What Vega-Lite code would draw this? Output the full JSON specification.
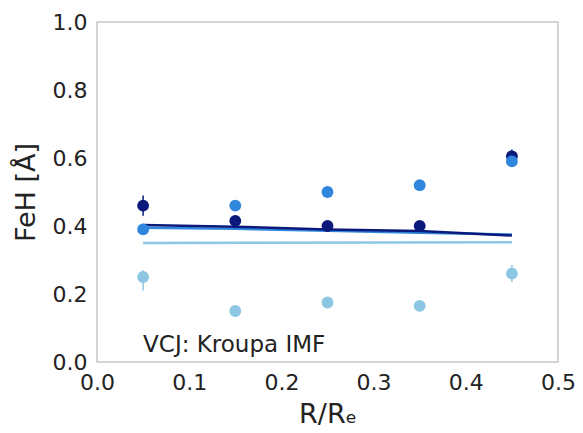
{
  "$schema": "https://vega.github.io/schema/vega-lite/v6.json",
  "width": 461,
  "height": 340,
  "autosize": {"type": "none"},
  "padding": {"left": 97, "top": 22, "right": 25, "bottom": 71},
  "background": "white",
  "config": {
    "view": {"stroke": "#c8c8c8", "strokeWidth": 1.5},
    "font": "DejaVu Sans",
    "axis": {
      "grid": false,
      "domain": false,
      "ticks": false,
      "labelFlush": false,
      "labelOverlap": false,
      "labelFont": "DejaVu Sans",
      "labelFontSize": 22,
      "labelColor": "#222222",
      "titleFont": "DejaVu Sans",
      "titleFontSize": 27,
      "titleFontWeight": "normal",
      "titleColor": "#222222"
    }
  },
  "datasets": {
    "pts": [
      {"r": 0.05, "feh": 0.46, "lo": 0.43, "hi": 0.49, "series": "a"},
      {"r": 0.15, "feh": 0.415, "lo": 0.405, "hi": 0.425, "series": "a"},
      {"r": 0.25, "feh": 0.40, "lo": 0.39, "hi": 0.41, "series": "a"},
      {"r": 0.35, "feh": 0.40, "lo": 0.39, "hi": 0.41, "series": "a"},
      {"r": 0.45, "feh": 0.605, "lo": 0.585, "hi": 0.625, "series": "a"},
      {"r": 0.05, "feh": 0.39, "lo": 0.375, "hi": 0.405, "series": "b"},
      {"r": 0.15, "feh": 0.46, "lo": 0.45, "hi": 0.47, "series": "b"},
      {"r": 0.25, "feh": 0.50, "lo": 0.49, "hi": 0.51, "series": "b"},
      {"r": 0.35, "feh": 0.52, "lo": 0.51, "hi": 0.53, "series": "b"},
      {"r": 0.45, "feh": 0.59, "lo": 0.58, "hi": 0.60, "series": "b"},
      {"r": 0.05, "feh": 0.25, "lo": 0.21, "hi": 0.27, "series": "c"},
      {"r": 0.15, "feh": 0.15, "lo": 0.14, "hi": 0.16, "series": "c"},
      {"r": 0.25, "feh": 0.175, "lo": 0.16, "hi": 0.19, "series": "c"},
      {"r": 0.35, "feh": 0.165, "lo": 0.155, "hi": 0.175, "series": "c"},
      {"r": 0.45, "feh": 0.26, "lo": 0.235, "hi": 0.285, "series": "c"}
    ],
    "lines": [
      {"r": 0.05, "feh": 0.35, "series": "c"},
      {"r": 0.45, "feh": 0.352, "series": "c"},
      {"r": 0.05, "feh": 0.395, "series": "b"},
      {"r": 0.15, "feh": 0.392, "series": "b"},
      {"r": 0.25, "feh": 0.386, "series": "b"},
      {"r": 0.35, "feh": 0.38, "series": "b"},
      {"r": 0.45, "feh": 0.375, "series": "b"},
      {"r": 0.05, "feh": 0.403, "series": "a"},
      {"r": 0.15, "feh": 0.398, "series": "a"},
      {"r": 0.25, "feh": 0.39, "series": "a"},
      {"r": 0.35, "feh": 0.385, "series": "a"},
      {"r": 0.45, "feh": 0.372, "series": "a"}
    ],
    "label": [
      {"r": 0.05, "feh": 0.03, "text": "VCJ: Kroupa IMF"}
    ]
  },
  "layer": [
    {
      "data": {"name": "lines"},
      "mark": {"type": "line"},
      "encoding": {
        "x": {"field": "r", "type": "quantitative", "scale": {"domain": [0, 0.5], "nice": false}, "axis": {"values": [0, 0.1, 0.2, 0.3, 0.4, 0.5], "format": ".1f", "title": "R/Rₑ", "labelPadding": 10, "titlePadding": 8}},
        "y": {"field": "feh", "type": "quantitative", "scale": {"domain": [0, 1], "nice": false}, "axis": {"values": [0, 0.2, 0.4, 0.6, 0.8, 1.0], "format": ".1f", "title": "FeH [Å]", "labelPadding": 10, "titlePadding": 12}},
        "color": {"field": "series", "type": "nominal", "scale": {"domain": ["a", "b", "c"], "range": ["#0b1a7a", "#2f86dc", "#8cc6e2"]}, "legend": null},
        "strokeWidth": {"field": "series", "type": "nominal", "scale": {"domain": ["a", "b", "c"], "range": [2.5, 2.5, 1.5]}, "legend": null}
      }
    },
    {
      "data": {"name": "pts"},
      "mark": {"type": "rule", "strokeWidth": 1.5},
      "encoding": {
        "x": {"field": "r", "type": "quantitative"},
        "y": {"field": "lo", "type": "quantitative"},
        "y2": {"field": "hi"},
        "color": {"field": "series", "type": "nominal", "legend": null}
      }
    },
    {
      "data": {"name": "pts"},
      "mark": {"type": "circle", "size": 140, "opacity": 1},
      "encoding": {
        "x": {"field": "r", "type": "quantitative"},
        "y": {"field": "feh", "type": "quantitative"},
        "color": {"field": "series", "type": "nominal", "legend": null}
      }
    },
    {
      "data": {"name": "label"},
      "mark": {"type": "text", "align": "left", "baseline": "alphabetic", "fontSize": 23, "font": "DejaVu Sans", "color": "#222222"},
      "encoding": {
        "x": {"field": "r", "type": "quantitative"},
        "y": {"field": "feh", "type": "quantitative"},
        "text": {"field": "text"}
      }
    }
  ]
}
